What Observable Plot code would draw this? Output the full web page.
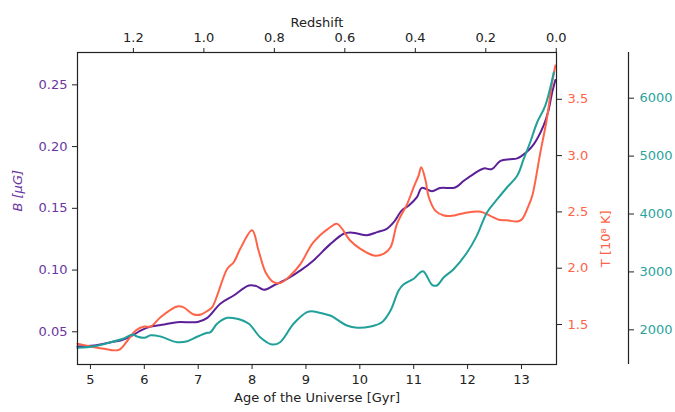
<!DOCTYPE html>
<html>
<head>
<meta charset="utf-8">
<script src="https://cdn.jsdelivr.net/npm/d3@7"></script>
<script src="https://cdn.jsdelivr.net/npm/@observablehq/plot@0.6"></script>
<style>
  html, body { margin: 0; padding: 0; background: white; }
</style>
</head>
<body>
<div id="chart"></div>
<script>
// ---- Data ----
const ageB = [4.76, 5.07, 5.38, 5.56, 5.75, 5.93, 6.12, 6.37, 6.61, 6.99, 7.17, 7.41, 7.66, 7.94, 8.08, 8.22, 8.40, 8.65, 8.90, 9.14, 9.45, 9.70, 9.82, 9.95, 10.13, 10.32, 10.50, 10.63, 10.78, 10.91, 11.06, 11.15, 11.34, 11.49, 11.77, 11.93, 12.11, 12.30, 12.45, 12.61, 12.79, 12.92, 13.10, 13.23, 13.41, 13.50, 13.57, 13.63];
const bField = [0.0381, 0.0389, 0.0416, 0.0430, 0.0462, 0.0510, 0.0543, 0.0559, 0.0578, 0.0580, 0.0613, 0.0727, 0.0794, 0.0875, 0.0870, 0.0840, 0.0875, 0.0929, 0.0997, 0.1078, 0.1210, 0.1294, 0.1305, 0.1296, 0.1282, 0.1307, 0.1334, 0.1388, 0.1483, 0.1523, 0.1590, 0.1666, 0.1639, 0.1664, 0.1669, 0.1723, 0.1777, 0.1823, 0.1817, 0.1885, 0.1898, 0.1904, 0.1958, 0.2020, 0.2169, 0.2290, 0.2440, 0.2540];

const ageT = [4.76, 5.01, 5.25, 5.53, 5.69, 5.84, 6.00, 6.12, 6.30, 6.61, 6.72, 6.92, 7.05, 7.18, 7.26, 7.54, 7.66, 7.78, 8.00, 8.12, 8.25, 8.40, 8.53, 8.71, 8.90, 9.14, 9.45, 9.58, 9.82, 10.01, 10.26, 10.44, 10.57, 10.69, 10.88, 11.00, 11.09, 11.14, 11.22, 11.28, 11.40, 11.56, 11.71, 11.93, 12.24, 12.42, 12.58, 12.73, 12.92, 13.01, 13.13, 13.20, 13.35, 13.47, 13.57, 13.63];
const temperature = [1.329, 1.305, 1.284, 1.275, 1.358, 1.447, 1.482, 1.482, 1.565, 1.660, 1.655, 1.589, 1.589, 1.624, 1.654, 1.995, 2.053, 2.172, 2.338, 2.157, 1.965, 1.876, 1.870, 1.935, 2.039, 2.231, 2.364, 2.394, 2.246, 2.172, 2.113, 2.128, 2.187, 2.394, 2.572, 2.720, 2.823, 2.897, 2.779, 2.630, 2.512, 2.468, 2.465, 2.489, 2.501, 2.465, 2.430, 2.426, 2.415, 2.435, 2.554, 2.643, 3.027, 3.323, 3.652, 3.800];

const ageN = [4.76, 5.07, 5.38, 5.63, 5.78, 5.87, 6.00, 6.12, 6.30, 6.61, 6.80, 6.99, 7.17, 7.23, 7.35, 7.54, 7.72, 7.94, 8.15, 8.37, 8.52, 8.77, 9.02, 9.11, 9.21, 9.45, 9.51, 9.76, 9.95, 10.20, 10.41, 10.57, 10.72, 10.81, 11.00, 11.17, 11.34, 11.43, 11.56, 11.74, 11.99, 12.17, 12.36, 12.55, 12.73, 12.92, 13.04, 13.16, 13.29, 13.44, 13.60];
const seriesN = [1689, 1717, 1786, 1855, 1919, 1884, 1862, 1907, 1884, 1786, 1803, 1884, 1948, 1959, 2104, 2207, 2190, 2104, 1872, 1746, 1786, 2104, 2304, 2321, 2304, 2247, 2218, 2074, 2035, 2057, 2131, 2333, 2679, 2782, 2881, 3012, 2777, 2765, 2908, 3047, 3335, 3623, 4026, 4255, 4458, 4660, 4946, 5235, 5580, 5868, 6444];

const ageTicks = [5, 6, 7, 8, 9, 10, 11, 12, 13];
const redshiftTicks = [1.2, 1.0, 0.8, 0.6, 0.4, 0.2, 0.0];
const bTicks = [0.05, 0.10, 0.15, 0.20, 0.25];
const tTicks = [1.5, 2.0, 2.5, 3.0, 3.5];
const nTicks = [2000, 3000, 4000, 5000, 6000];

// ---- Scales / axis mapping ----
const xDomain = [4.76, 13.65];
const bDomain = [0.0235, 0.2762];
const tDomain = [1.145, 3.9156];
const nDomain = [1401, 6789];
const zAtZeroAge = 13.6456, gyrPerZ = 6.5399;   // top axis: linear in redshift
const ageOfZ = z => zAtZeroAge - gyrPerZ * z;
const toB = dom => v => bDomain[0] + (v - dom[0]) * (bDomain[1] - bDomain[0]) / (dom[1] - dom[0]);
const fromB = dom => v => dom[0] + (v - bDomain[0]) * (dom[1] - dom[0]) / (bDomain[1] - bDomain[0]);
const tToB = toB(tDomain), tFromB = fromB(tDomain);
const nToB = toB(nDomain), nFromB = fromB(nDomain);

const purple = "#5b1f98", purpleText = "#6a36a2";
const orange = "#ff6347";
const teal = "#21a09a", tealText = "#2ca39d";
const ink = "#222";

const dataB = ageB.map((a, i) => ({age: a, v: bField[i]}));
const dataT = ageT.map((a, i) => ({age: a, v: tToB(temperature[i])}));
const dataN = ageN.map((a, i) => ({age: a, v: nToB(seriesN[i])}));

const chart = Plot.plot({
  width: 675,
  height: 412,
  marginLeft: 77,
  marginRight: 119,
  marginTop: 52,
  marginBottom: 48,
  style: {fontFamily: "DejaVu Sans", fontSize: "13px", background: "white", overflow: "visible"},
  x: {domain: xDomain},
  y: {domain: bDomain},
  marks: [
    Plot.line(dataB, {x: "age", y: "v", stroke: purple, strokeWidth: 2, curve: "catmull-rom"}),
    Plot.line(dataT, {x: "age", y: "v", stroke: orange, strokeWidth: 2, curve: "catmull-rom"}),
    Plot.line(dataN, {x: "age", y: "v", stroke: teal, strokeWidth: 2, curve: "catmull-rom"}),
    Plot.frame({stroke: ink, strokeWidth: 1.2}),
    Plot.axisX(ageTicks, {anchor: "bottom", tickSize: 5, tickPadding: 5, label: null, stroke: ink, fill: ink, tickFormat: d3.format("d")}),
    Plot.axisX(redshiftTicks.map(ageOfZ), {anchor: "top", tickSize: 5, tickPadding: 6, label: null, stroke: ink, fill: ink,
      tickFormat: a => d3.format(".1f")(Math.abs((zAtZeroAge - a) / gyrPerZ))}),
    Plot.axisY(bTicks, {anchor: "left", tickSize: 5, tickPadding: 5, label: null, stroke: ink, fill: purpleText, tickFormat: d3.format(".2f")}),
    Plot.axisY(tTicks.map(tToB), {anchor: "right", tickSize: 5, tickPadding: 6, label: null, stroke: ink, fill: orange,
      tickFormat: v => d3.format(".1f")(tFromB(v))}),
    Plot.ruleX([xDomain[1]], {dx: 72, stroke: ink, strokeWidth: 1.2}),
    Plot.axisY(nTicks.map(nToB), {anchor: "right", dx: 72, tickSize: 5, tickPadding: 6, label: null, stroke: ink, fill: tealText,
      tickFormat: v => d3.format("d")(Math.round(nFromB(v)))}),
    Plot.text(["Age of the Universe [Gyr]"], {frameAnchor: "bottom", dy: 37, fill: ink, fontSize: 13}),
    Plot.text(["Redshift"], {frameAnchor: "top", dy: -35, fill: ink, fontSize: 13}),
    Plot.text(["B [μG]"], {frameAnchor: "left", dx: -60, dy: 3, rotate: -90, fill: purpleText, fontSize: 13, fontStyle: "italic"}),
    Plot.text(["T [10⁸ K]"], {frameAnchor: "right", dx: 49, dy: 2, rotate: -90, fill: orange, fontSize: 13})
  ]
});
document.getElementById("chart").appendChild(chart);
</script>
</body>
</html>
